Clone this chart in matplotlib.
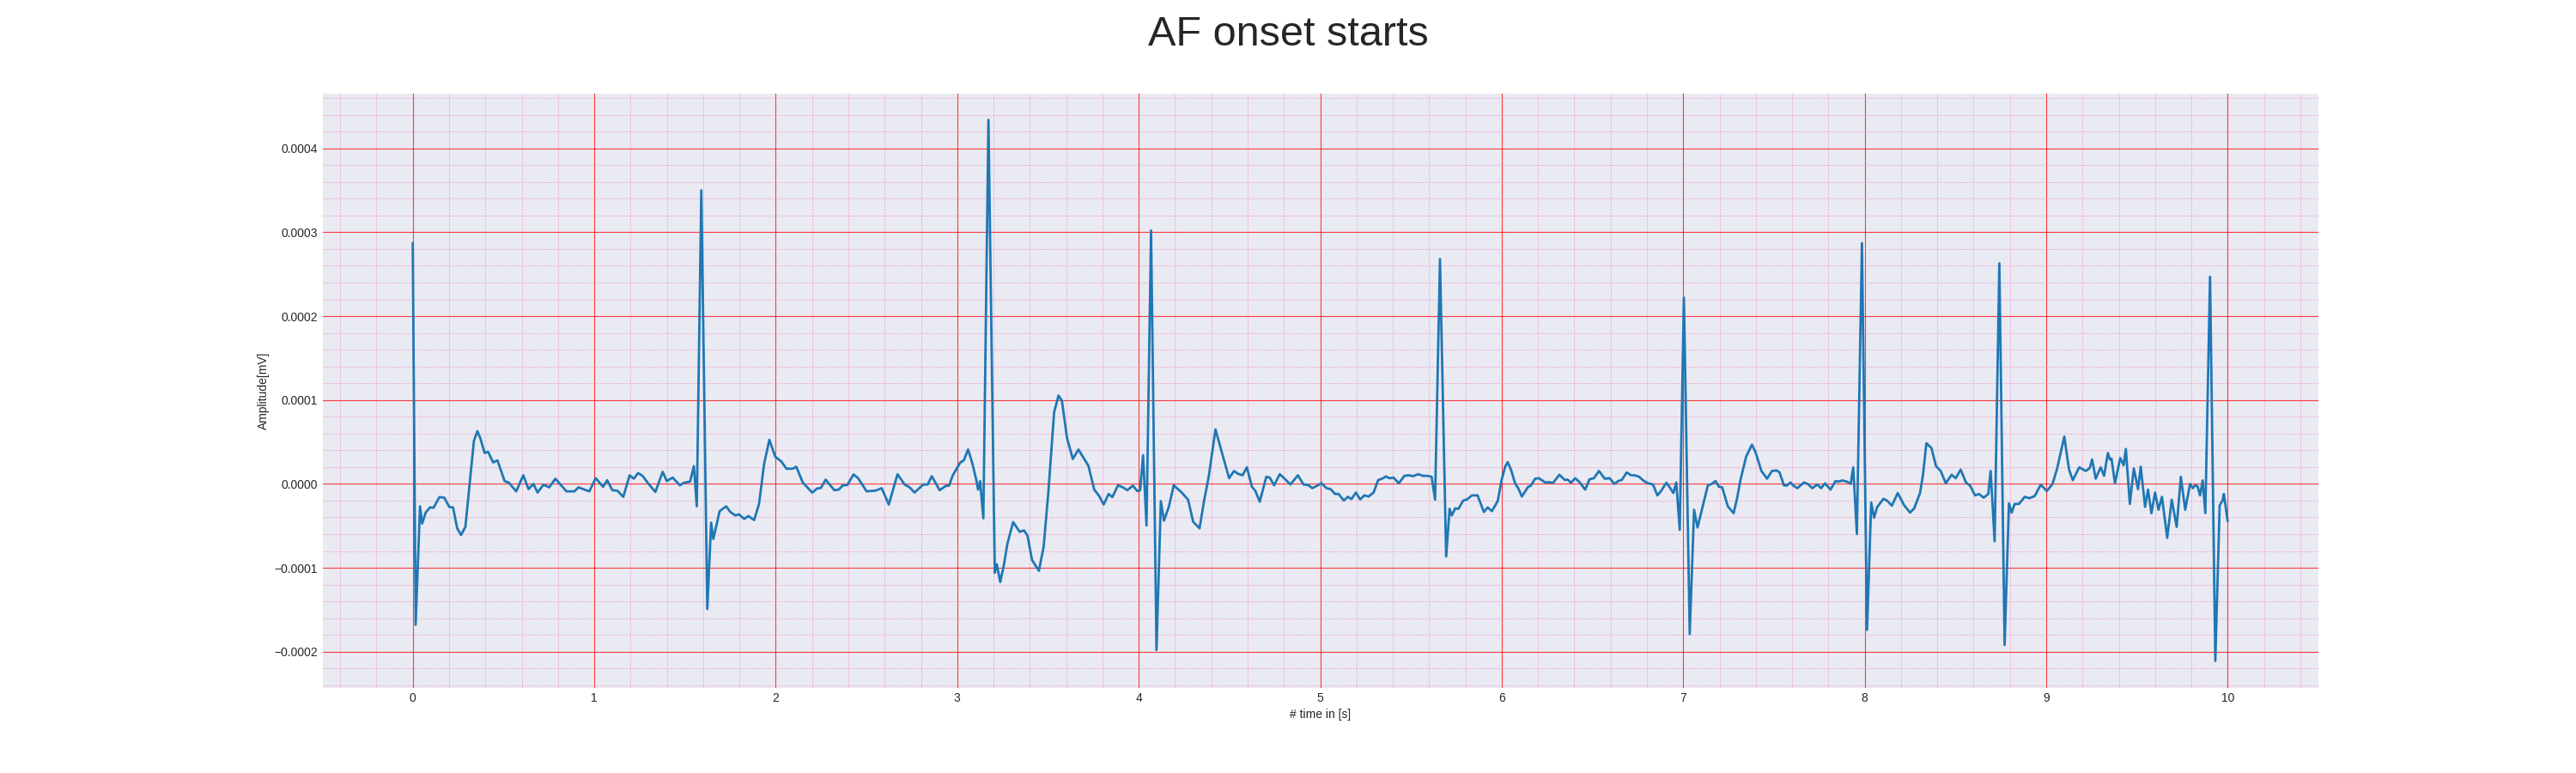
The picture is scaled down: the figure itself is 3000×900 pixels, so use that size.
#!/usr/bin/env python
# coding: utf-8

#%% ---- DEPENDENCIES
import numpy as np
import matplotlib
matplotlib.use("Agg")
import matplotlib.pyplot as plt
from matplotlib.ticker import MultipleLocator
import seaborn as sns

#%% ---- DATA (amplitude in units of 1e-5 mV)
time_s = [
    0.000, 0.016, 0.040, 0.052, 0.071, 0.095, 0.115, 0.147, 0.174, 0.201,
    0.222, 0.245, 0.266, 0.290, 0.312, 0.337, 0.356, 0.372, 0.396, 0.415,
    0.443, 0.467, 0.506, 0.530, 0.570, 0.609, 0.638, 0.665, 0.688, 0.720,
    0.752, 0.786, 0.847, 0.891, 0.913, 0.973, 1.008, 1.049, 1.071, 1.100,
    1.128, 1.160, 1.195, 1.218, 1.242, 1.266, 1.302, 1.337, 1.377, 1.400,
    1.432, 1.472, 1.494, 1.528, 1.549, 1.565, 1.590, 1.623, 1.644, 1.656,
    1.691, 1.727, 1.750, 1.778, 1.797, 1.826, 1.849, 1.881, 1.908, 1.936,
    1.965, 1.997, 2.031, 2.059, 2.094, 2.113, 2.149, 2.201, 2.228, 2.249,
    2.275, 2.323, 2.347, 2.370, 2.394, 2.429, 2.454, 2.501, 2.552, 2.584,
    2.623, 2.671, 2.710, 2.738, 2.765, 2.813, 2.837, 2.860, 2.903, 2.939,
    2.955, 2.975, 3.017, 3.036, 3.060, 3.084, 3.103, 3.115, 3.126, 3.144,
    3.172, 3.207, 3.218, 3.237, 3.258, 3.276, 3.308, 3.344, 3.368, 3.387,
    3.412, 3.450, 3.476, 3.502, 3.534, 3.558, 3.577, 3.605, 3.637, 3.668,
    3.692, 3.723, 3.755, 3.782, 3.807, 3.834, 3.855, 3.886, 3.913, 3.937,
    3.968, 3.992, 4.008, 4.024, 4.043, 4.068, 4.098, 4.122, 4.139, 4.166,
    4.193, 4.237, 4.272, 4.300, 4.335, 4.360, 4.387, 4.423, 4.458, 4.498,
    4.525, 4.548, 4.572, 4.596, 4.624, 4.643, 4.667, 4.703, 4.722, 4.746,
    4.777, 4.801, 4.836, 4.877, 4.908, 4.935, 4.956, 4.987, 5.006, 5.035,
    5.057, 5.082, 5.101, 5.130, 5.152, 5.172, 5.197, 5.220, 5.243, 5.267,
    5.294, 5.319, 5.346, 5.362, 5.382, 5.404, 5.433, 5.464, 5.488, 5.512,
    5.540, 5.567, 5.591, 5.614, 5.633, 5.660, 5.694, 5.713, 5.725, 5.744,
    5.762, 5.788, 5.809, 5.836, 5.867, 5.902, 5.923, 5.946, 5.978, 6.000,
    6.019, 6.033, 6.051, 6.075, 6.091, 6.111, 6.146, 6.161, 6.184, 6.205,
    6.240, 6.255, 6.284, 6.318, 6.347, 6.363, 6.382, 6.405, 6.429, 6.460,
    6.484, 6.508, 6.536, 6.568, 6.595, 6.621, 6.642, 6.662, 6.689, 6.713,
    6.732, 6.757, 6.784, 6.807, 6.834, 6.858, 6.878, 6.907, 6.926, 6.946,
    6.962, 6.981, 7.004, 7.036, 7.060, 7.079, 7.099, 7.136, 7.158, 7.178,
    7.197, 7.215, 7.246, 7.278, 7.297, 7.316, 7.347, 7.379, 7.399, 7.431,
    7.462, 7.489, 7.515, 7.531, 7.555, 7.570, 7.591, 7.607, 7.629, 7.665,
    7.686, 7.712, 7.739, 7.760, 7.781, 7.812, 7.839, 7.855, 7.878, 7.902,
    7.923, 7.937, 7.957, 7.985, 8.013, 8.036, 8.052, 8.068, 8.103, 8.123,
    8.150, 8.182, 8.218, 8.250, 8.273, 8.305, 8.321, 8.340, 8.368, 8.393,
    8.419, 8.447, 8.479, 8.502, 8.529, 8.558, 8.581, 8.608, 8.629, 8.656,
    8.681, 8.694, 8.716, 8.742, 8.771, 8.795, 8.810, 8.826, 8.850, 8.882,
    8.908, 8.937, 8.970, 9.004, 9.035, 9.060, 9.100, 9.126, 9.147, 9.182,
    9.218, 9.240, 9.253, 9.273, 9.300, 9.319, 9.340, 9.351, 9.360, 9.379,
    9.408, 9.427, 9.439, 9.461, 9.483, 9.506, 9.521, 9.545, 9.561, 9.580,
    9.600, 9.619, 9.638, 9.667, 9.692, 9.719, 9.742, 9.766, 9.793, 9.808,
    9.821, 9.834, 9.848, 9.862, 9.877, 9.903, 9.932, 9.956, 9.972, 9.979,
    10.000,
]

amplitude_e5 = [
    28.7, -16.8, -2.67, -4.72, -3.42, -2.80, -2.84, -1.57, -1.64, -2.74,
    -2.80, -5.30, -6.09, -5.13, -0.34, 5.13, 6.29, 5.47, 3.69, 3.83,
    2.56, 2.80, 0.34, 0.14, -0.89, 1.03, -0.62, 0.00, -1.03, -0.10,
    -0.41, 0.62, -0.89, -0.89, -0.41, -0.89, 0.68, -0.34, 0.44, -0.75,
    -0.82, -1.54, 1.03, 0.62, 1.30, 0.96, -0.07, -0.96, 1.44, 0.34,
    0.75, -0.17, 0.14, 0.27, 2.12, -2.67, 35.0, -14.9, -4.62, -6.56,
    -3.25, -2.67, -3.35, -3.76, -3.62, -4.17, -3.83, -4.31, -2.39, 2.39,
    5.26, 3.25, 2.67, 1.81, 1.81, 2.05, 0.17, -1.03, -0.55, -0.48,
    0.51, -0.75, -0.68, -0.17, -0.14, 1.13, 0.68, -0.89, -0.79, -0.51,
    -2.46, 1.16, -0.07, -0.41, -1.03, -0.07, -0.07, 0.92, -0.75, -0.21,
    -0.21, 1.00, 2.56, 2.80, 4.10, 2.39, 0.68, -0.68, 0.34, -4.10,
    43.4, -10.6, -9.57, -11.69, -9.57, -7.18, -4.55, -5.71, -5.54, -6.15,
    -9.06, -10.36, -7.52, -1.03, 8.55, 10.53, 9.91, 5.47, 2.97, 4.10,
    3.25, 2.15, -0.68, -1.44, -2.46, -1.20, -1.57, -0.17, -0.41, -0.75,
    -0.21, -0.85, -0.75, 3.42, -4.96, 30.2, -19.8, -2.05, -4.38, -2.74,
    -0.17, -1.03, -1.88, -4.51, -5.30, -2.05, 1.03, 6.50, 3.76, 0.68,
    1.54, 1.20, 1.03, 1.98, -0.34, -0.85, -2.12, 0.85, 0.75, -0.17,
    1.16, 0.68, -0.07, 1.03, -0.07, -0.14, -0.51, -0.17, 0.10, -0.51,
    -0.62, -1.20, -1.20, -1.98, -1.54, -1.81, -1.03, -1.85, -1.37, -1.50,
    -1.03, 0.44, 0.68, 0.89, 0.68, 0.75, 0.07, 0.96, 1.03, 0.92,
    1.16, 0.96, 0.96, 0.85, -1.88, 26.8, -8.65, -2.97, -3.76, -2.91,
    -2.97, -1.98, -1.85, -1.37, -1.37, -3.35, -2.80, -3.25, -2.05, 0.50,
    2.05, 2.60, 1.71, 0.00, -0.51, -1.50, -0.34, -0.21, 0.62, 0.68,
    0.17, 0.21, 0.14, 1.09, 0.48, 0.51, 0.14, 0.68, 0.21, -0.68,
    0.55, 0.68, 1.54, 0.62, 0.68, 0.00, 0.34, 0.48, 1.37, 1.03,
    1.03, 0.85, 0.34, 0.07, -0.07, -1.37, -0.85, 0.14, -0.41, -1.09,
    0.17, -5.47, 22.2, -17.9, -3.08, -5.20, -3.42, -0.17, 0.00, 0.34,
    -0.34, -0.41, -2.67, -3.49, -1.71, 0.51, 3.25, 4.68, 3.76, 1.54,
    0.62, 1.54, 1.61, 1.37, -0.17, -0.21, 0.17, -0.21, -0.51, 0.17,
    0.00, -0.51, -0.07, -0.51, 0.07, -0.68, 0.34, 0.27, 0.41, 0.27,
    0.00, 1.98, -5.98, 28.7, -17.4, -2.22, -4.03, -2.80, -1.78, -1.98,
    -2.60, -1.09, -2.56, -3.42, -2.91, -1.09, 1.03, 4.85, 4.27, 2.12,
    1.54, 0.07, 1.09, 0.68, 1.71, 0.17, -0.21, -1.37, -1.20, -1.64,
    -1.20, 1.54, -6.84, 26.3, -19.2, -2.32, -3.42, -2.39, -2.39, -1.54,
    -1.71, -1.44, -0.10, -0.85, 0.00, 1.80, 5.64, 1.71, 0.44, 1.98,
    1.54, 1.88, 2.91, 0.62, 1.98, 0.96, 3.69, 2.91, 3.01, 0.07,
    3.08, 2.22, 4.17, -2.39, 1.85, -0.62, 2.05, -2.74, -0.68, -3.49,
    -1.03, -3.08, -1.54, -6.43, -1.88, -5.13, 0.85, -3.08, 0.00, -0.51,
    -0.17, -0.27, -1.37, 0.41, -3.49, 24.7, -21.1, -2.56, -1.98, -1.20,
    -4.44,
]

title = "AF onset starts"
x_label = "# time in [s]"
y_label = "Amplitude[mV]"

#%% ---- PLOT
sns.set_style("darkgrid")
plt.rcParams['font.family'] = ['Liberation Sans', 'DejaVu Sans']

signal = np.array(amplitude_e5) * 1e-5

fig, ax = plt.subplots(figsize=(30, 9), dpi=100)
ax.plot(time_s, signal, color="#1f77b4", linewidth=2.0)

# ecg paper style grid: big red squares, small pink dashed ones
ax.xaxis.set_major_locator(MultipleLocator(1))
ax.xaxis.set_minor_locator(MultipleLocator(0.2))
ax.yaxis.set_major_locator(MultipleLocator(0.0001))
ax.yaxis.set_minor_locator(MultipleLocator(0.00002))
ax.grid(which="major", linestyle="-", linewidth=0.8, color="red", alpha=0.75)
ax.grid(which="minor", linestyle="--", linewidth=0.5, color="#f08ccd", alpha=0.8)
# no tick marks, labels sit close to the frame
ax.tick_params(which="both", length=0)

ax.set_xlabel(x_label)
ax.set_ylabel(y_label)
fig.suptitle(title, fontsize=35)

plt.savefig("out.png", dpi=100)
